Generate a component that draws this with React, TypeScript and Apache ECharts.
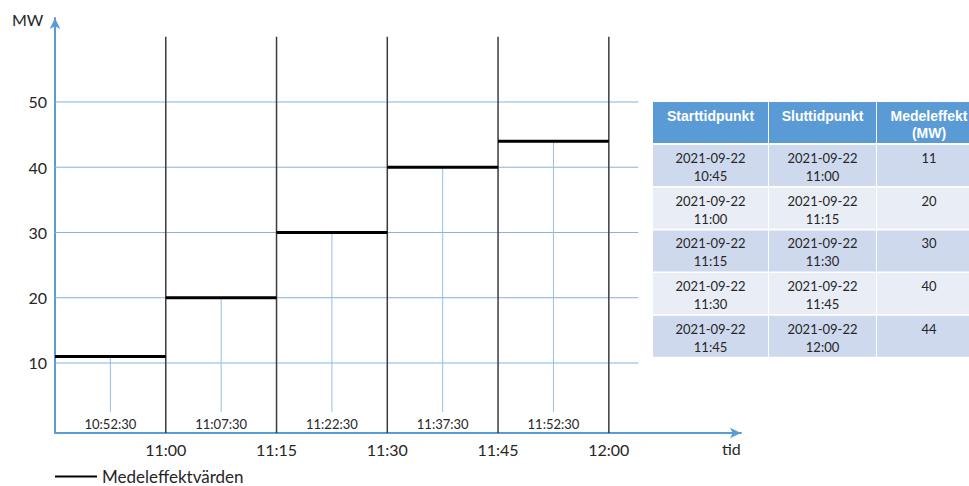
import React, { useEffect, useRef } from 'react';
import * as echarts from 'echarts';

// Quarter-hour periods and their mean power
const periodDate = '2021-09-22';
const startTimes = ['10:45', '11:00', '11:15', '11:30', '11:45'];
const endTimes = ['11:00', '11:15', '11:30', '11:45', '12:00'];
const meanPowerMW = [11, 20, 30, 40, 44];
const midpointLabels = ['10:52:30', '11:07:30', '11:22:30', '11:37:30', '11:52:30'];

// Axis ticks
const xTickLabels = ['11:00', '11:15', '11:30', '11:45', '12:00'];
const yTickValues = [10, 20, 30, 40, 50];

// Table headers
const tableHeaders = ['Starttidpunkt', 'Sluttidpunkt', 'Medeleffekt\n(MW)'];

const ORIGIN = '10:45';
const clock = (t: string) => {
  const [h, m, s] = t.split(':').map(Number);
  return h * 60 + m + (s || 0) / 60;
};
const toMinutes = (t: string) => clock(t) - clock(ORIGIN);

// Vertical reach of the guide lines (in MW on the y scale)
const Y_MIN = -0.73;
const BOUNDARY_TOP = 60;
const MIDLINE_BOTTOM = 2.5;
const GRID_EXTENT_MIN = 79;

const AXIS_BLUE = '#5b9bd5';
const GRID_BLUE = '#84b3e1';
const MID_BLUE = '#92bfe8';
const FONT = 'Lato, "Noto Sans", sans-serif';

const periods = startTimes.map((s, i) => [toMinutes(s), toMinutes(endTimes[i]), meanPowerMW[i]]);

function lineEl(a: number[], b: number[], stroke: string, lineWidth: number) {
  return {
    type: 'line',
    shape: { x1: a[0], y1: a[1], x2: b[0], y2: b[1] },
    style: { stroke, lineWidth },
  };
}

function buildTable() {
  const cols = [
    { x: 653, w: 115 },
    { x: 769, w: 107 },
    { x: 877, w: 104 },
  ];
  const headerTop = 102;
  const headerH = 41;
  const rowTop0 = 145;
  const rowPitch = 42.7;
  const rowH = 41;
  const els: any[] = [];
  cols.forEach((c, ci) => {
    els.push({
      type: 'rect',
      shape: { x: c.x, y: headerTop, width: c.w, height: headerH },
      style: { fill: '#5b9bd5' },
    });
    els.push({
      type: 'text',
      x: c.x + c.w / 2,
      y: headerTop + 5.5,
      style: {
        text: tableHeaders[ci],
        fill: '#ffffff',
        fontSize: 14,
        fontWeight: 'bold',
        fontFamily: '"Liberation Sans", Arial, sans-serif',
        lineHeight: 17,
        align: 'center',
        textAlign: 'center',
        verticalAlign: 'top',
        textVerticalAlign: 'top',
      },
    });
  });
  startTimes.forEach((s, ri) => {
    const top = rowTop0 + ri * rowPitch;
    const fill = ri % 2 === 0 ? '#cfd9ee' : '#e9edf6';
    const cells = [`${periodDate}\n${s}`, `${periodDate}\n${endTimes[ri]}`, String(meanPowerMW[ri])];
    cols.forEach((c, ci) => {
      els.push({
        type: 'rect',
        shape: { x: c.x, y: top, width: c.w, height: rowH },
        style: { fill },
      });
      els.push({
        type: 'text',
        x: c.x + c.w / 2,
        y: top + 4,
        style: {
          text: cells[ci],
          fill: '#262626',
          fontSize: 13,
          fontFamily: FONT,
          lineHeight: 18,
          align: 'center',
          textAlign: 'center',
          verticalAlign: 'top',
          textVerticalAlign: 'top',
        },
      });
    });
  });
  return els;
}

export default function App() {
  const ref = useRef<HTMLDivElement>(null);

  useEffect(() => {
    if (!ref.current) return;
    const chart = echarts.init(ref.current, undefined, { renderer: 'svg' });

    const xTickValues = xTickLabels.map(toMinutes);

    chart.setOption({
      animation: false,
      backgroundColor: '#ffffff',
      grid: { left: 55, right: 228, top: 18, bottom: 53 },
      legend: {
        data: ['Medeleffektvärden'],
        left: 55,
        top: 468,
        padding: 0,
        icon: 'rect',
        itemWidth: 42,
        itemHeight: 2,
        selectedMode: false,
        textStyle: { fontSize: 17, fontFamily: FONT, color: '#262626' },
      },
      xAxis: {
        type: 'value',
        min: 0,
        max: 92.9,
        axisLine: {
          show: true,
          onZero: false,
          symbol: ['none', 'arrow'],
          symbolSize: [8, 11],
          lineStyle: { color: AXIS_BLUE, width: 2 },
        },
        axisTick: { show: false },
        splitLine: { show: false },
        axisLabel: {
          customValues: xTickValues,
          formatter: (v: number) => {
            const i = xTickValues.findIndex((t) => Math.abs(t - v) < 1e-6);
            return i >= 0 ? xTickLabels[i] : '';
          },
          margin: 8,
          fontSize: 16,
          fontFamily: FONT,
          color: '#262626',
        },
      },
      yAxis: {
        type: 'value',
        min: Y_MIN,
        max: 62.87,
        axisLine: {
          show: true,
          symbol: ['none', 'arrow'],
          symbolSize: [8, 11],
          lineStyle: { color: AXIS_BLUE, width: 2 },
        },
        axisTick: { show: false },
        splitLine: { show: false },
        axisLabel: {
          customValues: yTickValues,
          formatter: (v: number) => String(Math.round(v)),
          margin: 8,
          fontSize: 16,
          fontFamily: FONT,
          color: '#262626',
        },
      },
      graphic: [
        {
          type: 'text',
          left: 12,
          top: 11,
          style: { text: 'MW', fontSize: 16, fontFamily: FONT, fill: '#262626' },
        },
        {
          type: 'text',
          left: 722,
          top: 440,
          style: { text: 'tid', fontSize: 16, fontFamily: FONT, fill: '#262626' },
        },
        ...buildTable(),
      ],
      series: [
        {
          // horizontal guide lines at each y tick
          type: 'custom',
          silent: true,
          data: yTickValues.map((v) => [0, GRID_EXTENT_MIN, v]),
          encode: { x: [0, 1], y: 2 },
          renderItem: (_p: any, api: any) =>
            lineEl(
              api.coord([api.value(0), api.value(2)]),
              api.coord([api.value(1), api.value(2)]),
              GRID_BLUE,
              1
            ),
        },
        {
          // midpoint markers of each period with their time labels
          type: 'custom',
          silent: true,
          data: periods.map((p, i) => [(p[0] + p[1]) / 2, p[2], i]),
          encode: { x: 0, y: 1 },
          renderItem: (_p: any, api: any) => {
            const x = api.value(0);
            const top = api.coord([x, api.value(1)]);
            const bottom = api.coord([x, MIDLINE_BOTTOM]);
            const base = api.coord([x, Y_MIN]);
            return {
              type: 'group',
              children: [
                lineEl(top, bottom, MID_BLUE, 1),
                {
                  type: 'text',
                  x: base[0],
                  y: base[1] - 9,
                  style: {
                    text: midpointLabels[api.value(2)],
                    fontSize: 13,
                    fontFamily: FONT,
                    fill: '#262626',
                    align: 'center',
                    textAlign: 'center',
                    verticalAlign: 'middle',
                    textVerticalAlign: 'middle',
                  },
                },
              ],
            };
          },
        },
        {
          // period boundaries
          type: 'custom',
          silent: true,
          data: endTimes.map((t) => [toMinutes(t), BOUNDARY_TOP]),
          encode: { x: 0, y: 1 },
          renderItem: (_p: any, api: any) =>
            lineEl(
              api.coord([api.value(0), Y_MIN]),
              api.coord([api.value(0), api.value(1)]),
              '#3c3c3c',
              1.5
            ),
        },
        {
          name: 'Medeleffektvärden',
          type: 'custom',
          silent: true,
          itemStyle: { color: '#000000' },
          data: periods,
          encode: { x: [0, 1], y: 2 },
          renderItem: (_p: any, api: any) =>
            lineEl(
              api.coord([api.value(0), api.value(2)]),
              api.coord([api.value(1), api.value(2)]),
              '#000000',
              3
            ),
        },
      ],
    });

    return () => chart.dispose();
  }, []);

  return (
    <div
      ref={ref}
      style={{ position: 'absolute', left: 0, top: 0, width: 969, height: 486 }}
    />
  );
}
